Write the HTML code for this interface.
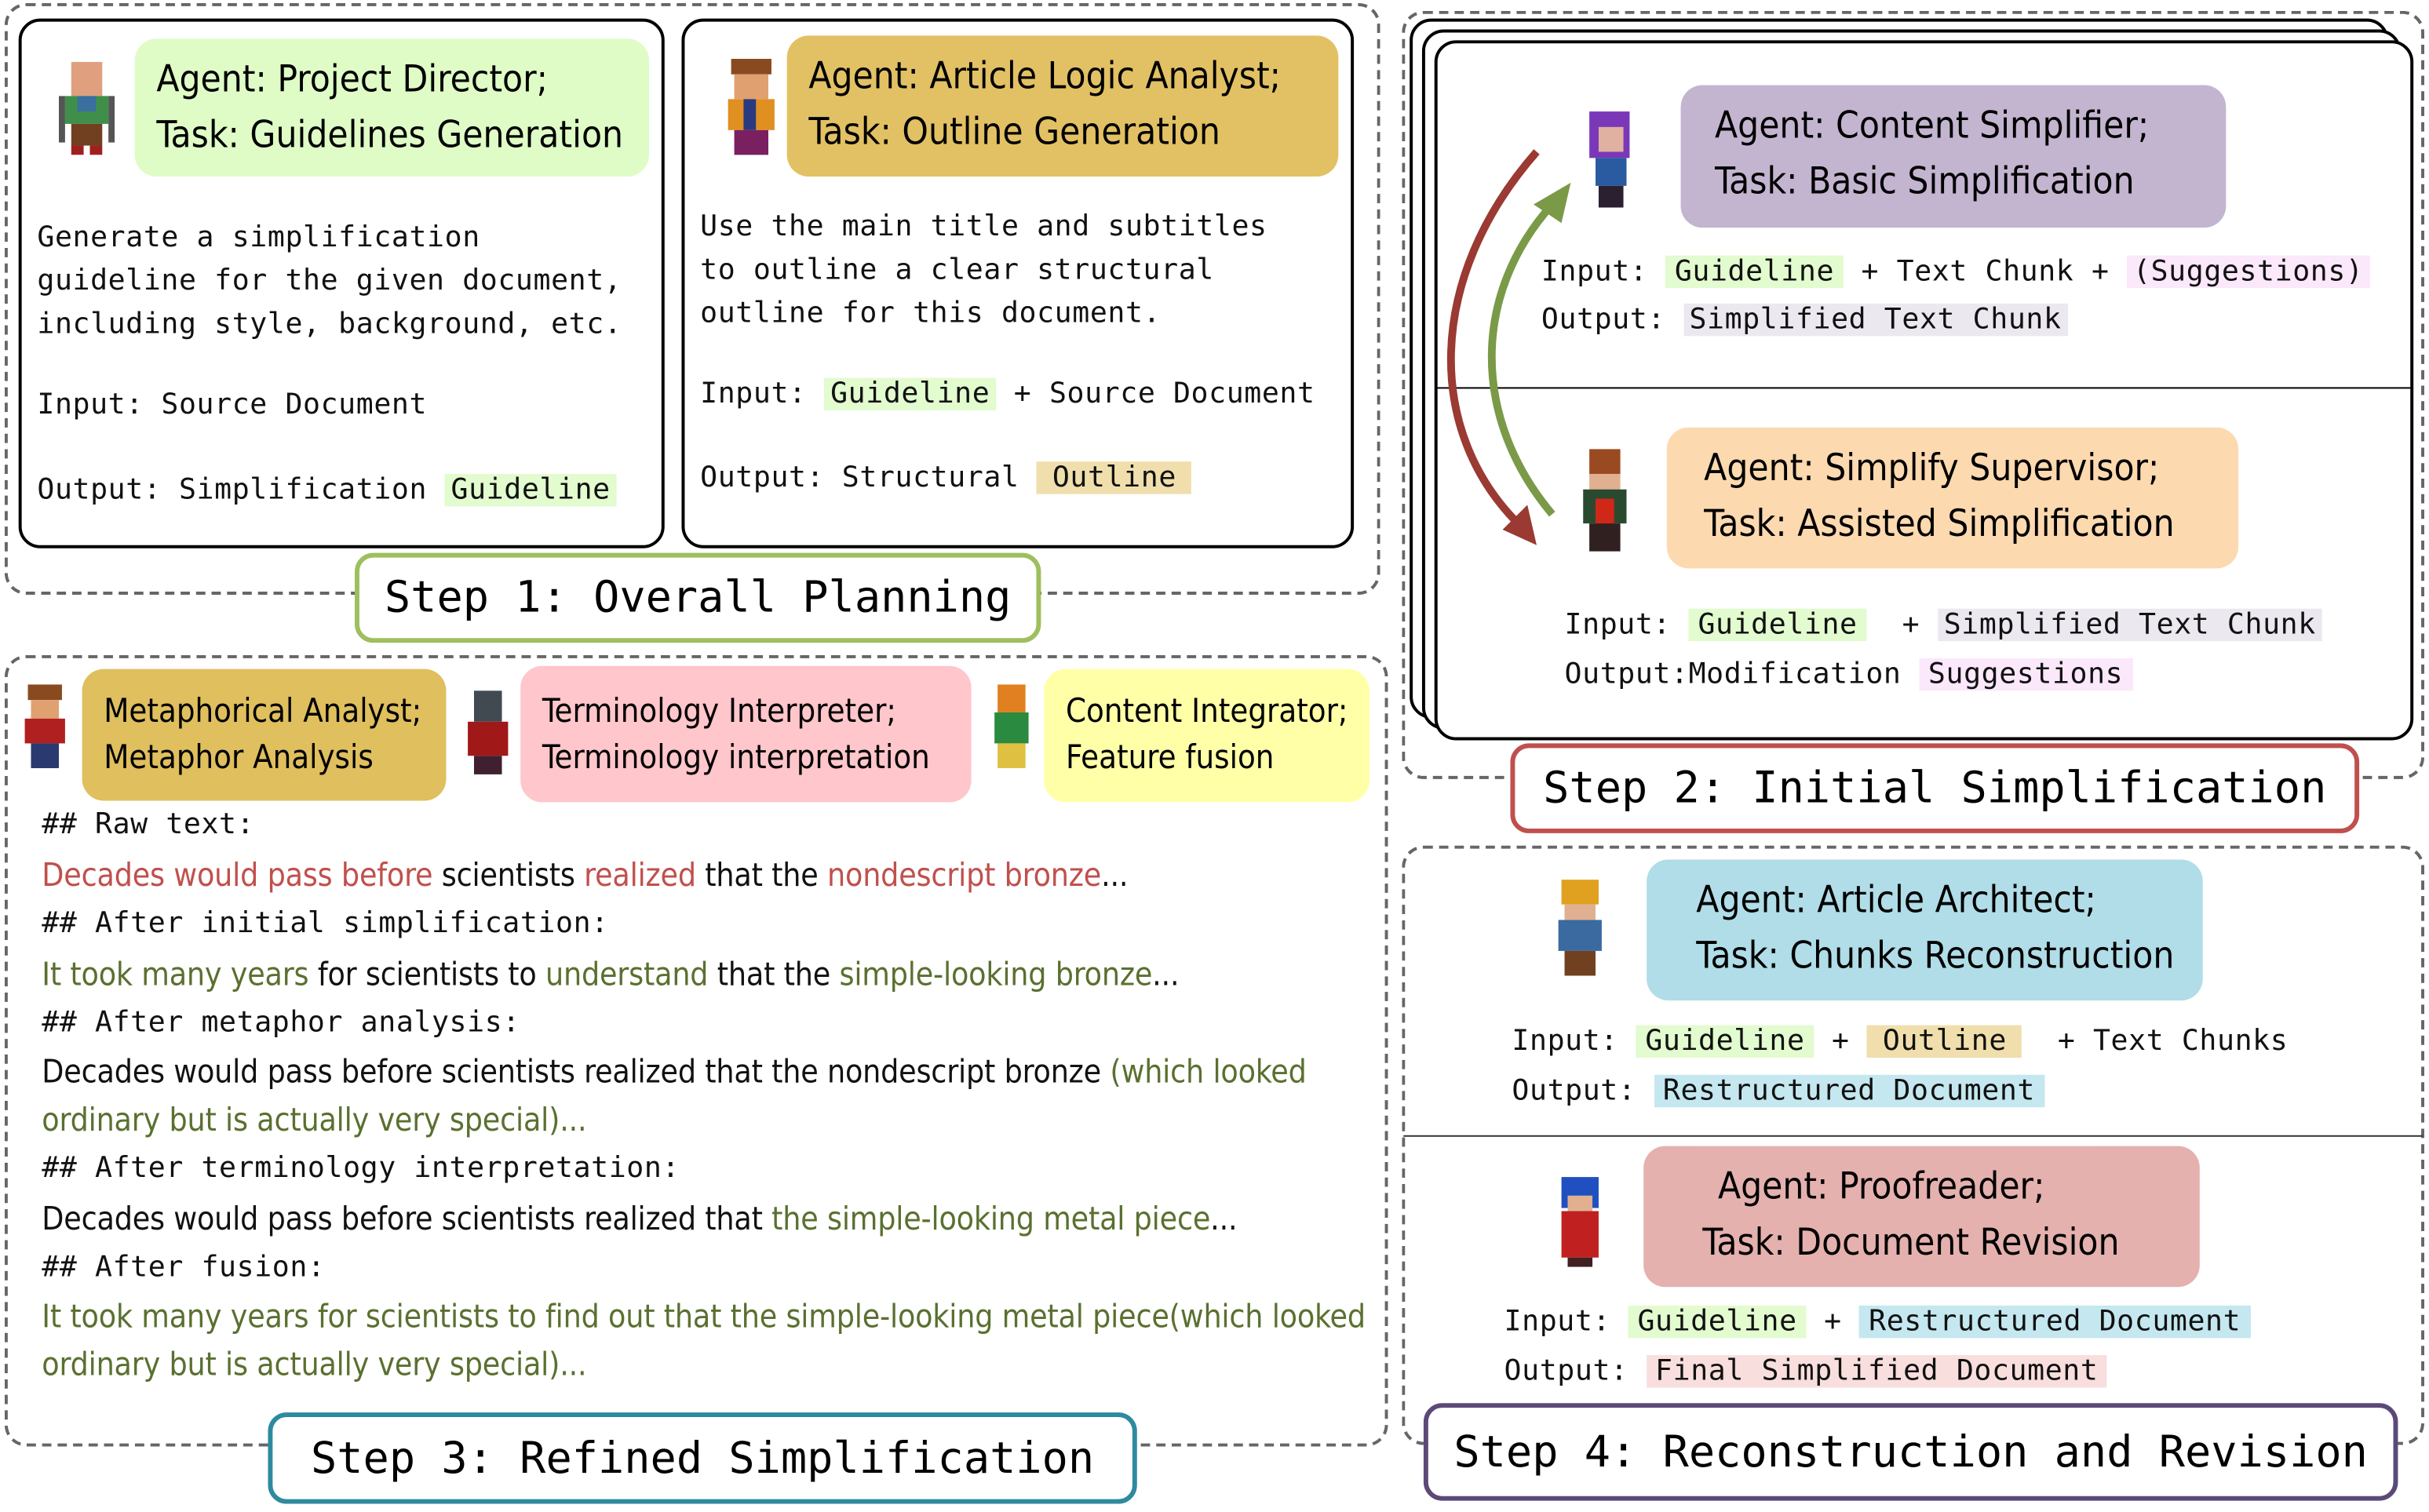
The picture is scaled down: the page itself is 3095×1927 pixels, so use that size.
<!DOCTYPE html>
<html><head><meta charset="utf-8"><style>
html,body{margin:0;padding:0;background:#fff;}
body{width:3095px;height:1927px;overflow:hidden;position:relative;}
#w{position:absolute;left:0;top:0;width:1568px;height:976px;transform:scale(1.9738);transform-origin:0 0;}
.a{position:absolute;box-sizing:border-box;}
.dash{border:2px dashed #666;border-radius:14px;}
.card{border:2.5px solid #000;border-radius:14px;background:#fff;}
.lab{border-radius:14px;font-family:"DejaVu Sans Condensed","Liberation Sans Narrow","Liberation Sans",sans-serif;font-size:24px;color:#000;line-height:36px;padding-left:14px;padding-top:8px;}
.m{position:absolute;font-family:"DejaVu Sans Mono","Liberation Mono",monospace;font-size:18.5px;color:#111;white-space:pre;letter-spacing:0.3px;}
.s{position:absolute;font-family:"DejaVu Sans Condensed","Liberation Sans Narrow","Liberation Sans",sans-serif;font-size:20.6px;letter-spacing:-0.1px;color:#111;white-space:pre;}
.step{border:3.5px solid;border-radius:12px;background:#fff;font-family:"DejaVu Sans Mono","Liberation Mono",monospace;font-size:28px;text-align:center;white-space:pre;color:#000;}
.g{background:#e2fbcf;}.y{background:#f0e0b0;}.p{background:#fbe8fb;}.gr{background:#ebe8f0;}.b{background:#c5e7ef;}.r{background:#f9dede;}
.red{color:#c0504d;}.grn{color:#5a7030;}
.ch{position:absolute;}
</style></head><body><div id="w">

<!-- Step 1 -->
<div class="a dash" style="left:3px;top:2px;width:888px;height:382px;"></div>
<div class="a card" style="left:12px;top:12px;width:417px;height:342px;"></div>
<div class="a lab" style="left:87px;top:25px;width:332px;height:89px;background:#dffcc6;">Agent: Project Director;<br>Task: Guidelines Generation</div>
<svg class="ch" style="left:36px;top:38px" width="42" height="62"><rect x="10" y="2" width="20" height="22" fill="#e0a080"/><rect x="6" y="24" width="28" height="18" fill="#3f8f4a"/><rect x="14" y="24" width="12" height="10" fill="#3a6fa0"/><rect x="10" y="42" width="20" height="14" fill="#704020"/><rect x="10" y="56" width="8" height="6" fill="#a02020"/><rect x="22" y="56" width="8" height="6" fill="#a02020"/><rect x="2" y="24" width="4" height="30" fill="#555"/><rect x="34" y="24" width="4" height="30" fill="#555"/></svg>
<div class="m" style="left:24px;top:140px;line-height:28px;">Generate a simplification
guideline for the given document,
including style, background, etc.</div>
<div class="m" style="left:24px;top:251px;">Input: Source Document</div>
<div class="m" style="left:24px;top:306px;">Output: Simplification <span class="g" style="padding:0 4px">Guideline</span></div>

<div class="a card" style="left:440px;top:12px;width:434px;height:342px;"></div>
<div class="a lab" style="left:508px;top:23px;width:356px;height:91px;background:#e2c164;">Agent: Article Logic Analyst;<br>Task: Outline  Generation</div>
<svg class="ch" style="left:466px;top:36px" width="38" height="66"><rect x="6" y="2" width="26" height="10" fill="#8a4a20"/><rect x="8" y="12" width="22" height="16" fill="#e0a070"/><rect x="4" y="28" width="30" height="20" fill="#e09020"/><rect x="14" y="28" width="8" height="20" fill="#2a3a80"/><rect x="8" y="48" width="22" height="16" fill="#7a2060"/></svg>
<div class="m" style="left:452px;top:133px;line-height:28px;">Use the main title and subtitles
to outline a clear structural
outline for this document.</div>
<div class="m" style="left:452px;top:244px;">Input: <span class="g" style="padding:0 4px">Guideline</span> + Source Document</div>
<div class="m" style="left:452px;top:298px;">Output: Structural <span class="y" style="padding:0 10px;background:#f0dfac">Outline</span></div>

<div class="a step" style="left:229px;top:357px;width:443px;height:58px;border-color:#9dbf5d;line-height:52px;">Step 1: Overall Planning</div>

<!-- Step 2 -->
<div class="a dash" style="left:905px;top:7px;width:660px;height:496px;"></div>
<div class="a card" style="left:910px;top:12px;width:632px;height:452px;"></div>
<div class="a card" style="left:918px;top:19px;width:632px;height:452px;"></div>
<div class="a card" style="left:926px;top:26px;width:632px;height:452px;"></div>
<div class="a" style="left:927px;top:250px;width:630px;height:1px;background:#000;"></div>
<div class="a lab" style="left:1085px;top:55px;width:352px;height:92px;background:#c3b5d0;padding-left:22px;">Agent: Content Simplifier;<br>Task:  Basic Simplification</div>
<svg class="ch" style="left:1020px;top:70px" width="40" height="68"><rect x="6" y="2" width="26" height="30" fill="#7a38b8"/><rect x="12" y="12" width="16" height="16" fill="#e0b0a0"/><rect x="10" y="32" width="20" height="18" fill="#2a5aa0"/><rect x="12" y="50" width="16" height="14" fill="#2a2030"/></svg>
<div class="m" style="left:995px;top:165px;">Input: <span class="g" style="padding:0 6px">Guideline</span> + Text Chunk + <span class="p" style="padding:0 4px">(Suggestions)</span></div>
<div class="m" style="left:995px;top:196px;">Output: <span class="gr" style="padding:0 4px">Simplified Text Chunk</span></div>
<div class="a lab" style="left:1076px;top:276px;width:369px;height:91px;background:#fdd9b0;padding-left:24px;">Agent: Simplify Supervisor;<br>Task: Assisted Simplification</div>
<svg class="ch" style="left:1016px;top:288px" width="40" height="72"><rect x="10" y="2" width="20" height="16" fill="#9a4a20"/><rect x="10" y="18" width="20" height="10" fill="#e0b090"/><rect x="6" y="28" width="28" height="22" fill="#2a4a30"/><rect x="14" y="34" width="12" height="18" fill="#d02818"/><rect x="10" y="50" width="20" height="18" fill="#302020"/></svg>
<div class="m" style="left:1010px;top:393px;">Input: <span class="g" style="padding:0 6px">Guideline</span>  + <span class="gr" style="padding:0 4px">Simplified Text Chunk</span></div>
<div class="m" style="left:1010px;top:425px;">Output:Modification <span class="p" style="padding:0 6px">Suggestions</span></div>
<svg class="a" style="left:920px;top:80px" width="100" height="290">
<path d="M72 18 C 0 100, 0 200, 62 260" fill="none" stroke="#9a3a32" stroke-width="5"/>
<polygon points="72,272 50,262 66,246" fill="#9a3a32"/>
<path d="M82 252 C 30 190, 30 110, 82 52" fill="none" stroke="#7a9a48" stroke-width="5"/>
<polygon points="94,38 88,64 70,52" fill="#7a9a48"/>
</svg>
<div class="a step" style="left:975px;top:480px;width:548px;height:58px;border-color:#c0504d;line-height:52px;">Step 2: Initial Simplification</div>

<!-- Step 3 -->
<div class="a dash" style="left:3px;top:423px;width:893px;height:511px;"></div>
<svg class="ch" style="left:14px;top:440px" width="30" height="58"><rect x="4" y="2" width="22" height="10" fill="#8a4a20"/><rect x="6" y="12" width="18" height="12" fill="#e0a070"/><rect x="2" y="24" width="26" height="16" fill="#b02020"/><rect x="6" y="40" width="18" height="16" fill="#2a3a70"/></svg>
<div class="a lab" style="left:53px;top:432px;width:235px;height:85px;background:#dfbf5e;font-size:21px;line-height:30px;padding-top:12px;">Metaphorical Analyst;<br>Metaphor Analysis</div>
<svg class="ch" style="left:300px;top:444px" width="30" height="58"><rect x="6" y="2" width="18" height="20" fill="#404a50"/><rect x="2" y="22" width="26" height="22" fill="#a01818"/><rect x="6" y="44" width="18" height="12" fill="#402030"/></svg>
<div class="a lab" style="left:336px;top:430px;width:291px;height:88px;background:#ffc6cb;font-size:21px;line-height:30px;padding-top:14px;">Terminology Interpreter;<br>Terminology interpretation</div>
<svg class="ch" style="left:638px;top:440px" width="30" height="58"><rect x="6" y="2" width="18" height="18" fill="#e08020"/><rect x="4" y="20" width="22" height="20" fill="#2a8a40"/><rect x="6" y="40" width="18" height="16" fill="#e0c040"/></svg>
<div class="a lab" style="left:674px;top:432px;width:210px;height:86px;background:#ffffa8;font-size:21px;line-height:30px;padding-top:12px;">Content Integrator;<br>Feature fusion</div>
<div class="m" style="left:27px;top:522px;">## Raw text:</div>
<div class="s" style="left:27px;top:553px;"><span class="red">Decades would pass before</span> scientists <span class="red">realized</span> that the <span class="red">nondescript bronze</span>...</div>
<div class="m" style="left:27px;top:586px;">## After initial simplification:</div>
<div class="s" style="left:27px;top:617px;"><span class="grn">It took many years</span> for scientists to <span class="grn">understand</span> that the <span class="grn">simple-looking bronze</span>...</div>
<div class="m" style="left:27px;top:650px;">## After metaphor analysis:</div>
<div class="s" style="left:27px;top:680px;">Decades would pass before scientists realized that the nondescript bronze <span class="grn">(which looked</span></div>
<div class="s grn" style="left:27px;top:711px;">ordinary but is actually very special)...</div>
<div class="m" style="left:27px;top:744px;">## After terminology interpretation:</div>
<div class="s" style="left:27px;top:775px;">Decades would pass before scientists realized that <span class="grn">the simple-looking metal piece</span>...</div>
<div class="m" style="left:27px;top:808px;">## After fusion:</div>
<div class="s grn" style="left:27px;top:838px;">It took many years for scientists to find out that the simple-looking metal piece(which looked</div>
<div class="s grn" style="left:27px;top:869px;">ordinary but is actually very special)...</div>
<div class="a step" style="left:173px;top:912px;width:561px;height:59px;border-color:#2e8a9e;line-height:53px;">Step 3: Refined Simplification</div>

<!-- Step 4 -->
<div class="a dash" style="left:905px;top:546px;width:660px;height:387px;"></div>
<div class="a" style="left:906px;top:733px;width:658px;height:1px;background:#333;"></div>
<div class="a lab" style="left:1063px;top:555px;width:359px;height:91px;background:#b0dde7;padding-left:32px;">Agent: Article Architect;<br>Task: Chunks Reconstruction</div>
<svg class="ch" style="left:1002px;top:566px" width="36" height="66"><rect x="6" y="2" width="24" height="16" fill="#e0a020"/><rect x="8" y="18" width="20" height="10" fill="#e0b090"/><rect x="4" y="28" width="28" height="20" fill="#3a6aa0"/><rect x="8" y="48" width="20" height="16" fill="#704020"/></svg>
<div class="m" style="left:976px;top:662px;">Input: <span class="g" style="padding:0 6px">Guideline</span> + <span style="background:#f0dfac;padding:0 10px">Outline</span>  + Text Chunks</div>
<div class="m" style="left:976px;top:694px;">Output: <span class="b" style="padding:0 6px">Restructured Document</span></div>
<div class="a lab" style="left:1061px;top:740px;width:359px;height:91px;background:#e4b1ae;padding-left:48px;">Agent: Proofreader;<br><span style="margin-left:-10px">Task: Document Revision</span></div>
<svg class="ch" style="left:1002px;top:758px" width="36" height="62"><rect x="6" y="2" width="24" height="20" fill="#2050c0"/><rect x="10" y="14" width="16" height="10" fill="#e0b090"/><rect x="6" y="24" width="24" height="30" fill="#c02020"/><rect x="10" y="54" width="16" height="6" fill="#402020"/></svg>
<div class="m" style="left:971px;top:843px;">Input: <span class="g" style="padding:0 6px">Guideline</span> + <span class="b" style="padding:0 6px">Restructured Document</span></div>
<div class="m" style="left:971px;top:875px;">Output: <span class="r" style="padding:0 6px">Final Simplified Document</span></div>
<div class="a step" style="left:919px;top:906px;width:629px;height:63px;border-color:#5b4a78;line-height:57px;">Step 4: Reconstruction and Revision</div>

</div></body></html>
